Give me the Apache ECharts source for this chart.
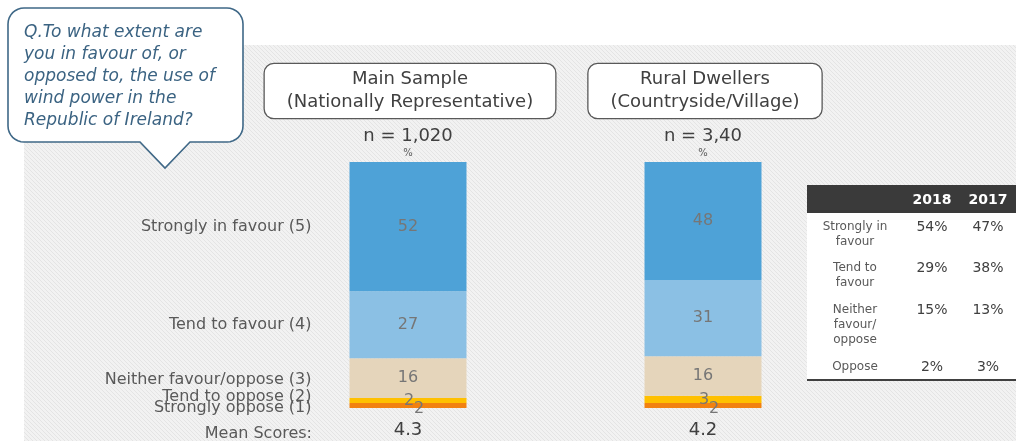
<!DOCTYPE html>
<html>
<head>
<meta charset="utf-8">
<script src="https://cdn.jsdelivr.net/npm/echarts@6/dist/echarts.min.js"></script>
<style>
  html, body { margin: 0; padding: 0; background: #fff; }
  #chart { width: 1016px; height: 441px; }
</style>
</head>
<body>
<div id="chart"></div>
<script>
// groups (x categories)
const groups = ['Main Sample\n(Nationally Representative)', 'Rural Dwellers\n(Countryside/Village)']
const sampleSizes = ['n = 1,020', 'n = 3,40']
const levels = ['Strongly in favour (5)', 'Tend to favour (4)', 'Neither favour/oppose (3)', 'Tend to oppose (2)', 'Strongly oppose (1)']
// % per group
const strongFavour = [52, 48]
const tendFavour = [27, 31]
const neither = [16, 16]
const tendOppose = [2, 3]
const strongOppose = [2, 2]
const meanScores = ['4.3', '4.2']
// comparison table
const tableYears = ['2018', '2017']
const tableRows = ['Strongly in\nfavour', 'Tend to\nfavour', 'Neither\nfavour/\noppose', 'Oppose']
const table2018 = ['54%', '29%', '15%', '2%']
const table2017 = ['47%', '38%', '13%', '3%']
const question = 'Q.To what extent are\nyou in favour of, or\nopposed to, the use of\nwind power in the\nRepublic of Ireland?'

const FONT = 'DejaVu Sans'
const chart = echarts.init(document.getElementById('chart'))

// stacks are drawn to 100%, labels show the raw number
const seriesValues = [strongFavour, tendFavour, neither, tendOppose, strongOppose]
const totals = groups.map((g, i) => seriesValues.reduce((s, arr) => s + arr[i], 0))
const toPct = (arr) => arr.map((v, i) => ({ value: v / totals[i] * 100, raw: v }))

const colors = ['#4ea2d7', '#8bc0e4', '#e5d5bb', '#ffc000', '#f28110']
const innerOffsets = [[0, 0], [0, 0], [0, 0], [1, 0], [11, 3]]
const leftOffsets = [[0, 0], [0, 0], [0, 2], [0, -4], [0, 2]]

// bottom of the stack first
const order = [4, 3, 2, 1, 0]
const series = []
order.forEach(k => {
  series.push({
    name: levels[k],
    type: 'bar',
    stack: 'total',
    barWidth: 117,
    barGap: '-100%',
    data: toPct(seriesValues[k]),
    itemStyle: { color: colors[k] },
    label: {
      show: true,
      position: 'inside',
      offset: innerOffsets[k],
      color: '#767676',
      fontFamily: FONT,
      fontSize: 16,
      formatter: p => p.data.raw
    },
    emphasis: { disabled: true }
  })
})
// invisible copy of the main sample stack, only used for the row labels on the left
order.forEach(k => {
  const d = toPct(seriesValues[k])
  series.push({
    name: levels[k] + ' label',
    type: 'bar',
    stack: 'ghost',
    barWidth: 117,
    barGap: '-100%',
    data: [d[0], '-'],
    itemStyle: { color: 'rgba(0,0,0,0)' },
    label: {
      show: true,
      position: 'left',
      distance: 38,
      offset: leftOffsets[k],
      color: '#595959',
      fontFamily: FONT,
      fontSize: 16,
      formatter: () => levels[k]
    },
    silent: true,
    z: 3
  })
})

// hatched backdrop
const hatch = document.createElement('canvas')
hatch.width = 4
hatch.height = 4
const hctx = hatch.getContext('2d')
hctx.fillStyle = '#f2f2f2'
hctx.fillRect(0, 0, 4, 4)
hctx.strokeStyle = '#e4e4e4'
hctx.lineWidth = 1
hctx.beginPath()
hctx.moveTo(0, 0)
hctx.lineTo(4, 4)
hctx.stroke()

const option = {
  backgroundColor: '#fff',
  animation: false,
  grid: { left: 260.5, right: 165.5, top: 162, bottom: 33 },
  xAxis: [
    {
      type: 'category',
      data: groups,
      axisLine: { show: false },
      axisTick: { show: false },
      axisLabel: {
        margin: 13,
        color: '#404040',
        fontFamily: FONT,
        fontSize: 18,
        formatter: (v, i) => meanScores[i]
      }
    },
    {
      type: 'category',
      position: 'top',
      data: groups,
      axisLine: { show: false },
      axisTick: { show: false },
      axisLabel: {
        margin: 3,
        formatter: (v, i) => `{n|${sampleSizes[i]}}\n{p|%}`,
        rich: {
          n: { color: '#404040', fontFamily: FONT, fontSize: 18, lineHeight: 22 },
          p: { color: '#595959', fontFamily: FONT, fontSize: 10, lineHeight: 12 }
        }
      }
    }
  ],
  yAxis: { type: 'value', min: 0, max: 100, show: false },
  series: series
}
chart.setOption(option)

// speech bubble outline: rounded box with a tail, as polygon points
function bubblePoints(x0, y0, x1, y1, r, tail) {
  const pts = []
  const arc = (cx, cy, a0) => {
    for (let s = 0; s <= 8; s++) {
      const a = (a0 + s * 90 / 8) * Math.PI / 180
      pts.push([cx + r * Math.cos(a), cy + r * Math.sin(a)])
    }
  }
  arc(x0 + r, y0 + r, 180)
  arc(x1 - r, y0 + r, 270)
  arc(x1 - r, y1 - r, 0)
  pts.push([tail[2], y1], [tail[1], tail[3]], [tail[0], y1])
  arc(x0 + r, y1 - r, 90)
  return pts
}

// header boxes, question bubble and the small table
const centres = groups.map((g, i) => chart.convertToPixel({ gridIndex: 0 }, [i, 0])[0])
const graphics = [
  {
    type: 'rect', z: -10, silent: true,
    shape: { x: 24, y: 45, width: 1016 - 24, height: 441 - 45 },
    style: { fill: { image: hatch, repeat: 'repeat' } }
  },
  {
    type: 'polygon', silent: true,
    shape: { points: bubblePoints(8, 8, 243, 142, 16, [140, 165, 190, 168]) },
    style: { fill: '#fff', stroke: '#3f6887', lineWidth: 1.6 }
  },
  {
    type: 'text', silent: true, x: 24, y: 22,
    style: { text: question, fill: '#3b6382', font: `italic 17px "${FONT}"`, lineHeight: 21.8, align: 'left', verticalAlign: 'top' }
  },
  {
    type: 'text', silent: true, x: 312, y: 434,
    style: { text: 'Mean Scores:', fill: '#595959', font: `16px "${FONT}"`, align: 'right', verticalAlign: 'middle' }
  }
]
groups.forEach((g, i) => {
  graphics.push({
    type: 'text', silent: true, x: centres[i] + 2, y: 64,
    style: {
      text: g, fill: '#404040', font: `18px "${FONT}"`, lineHeight: 23,
      align: 'center', verticalAlign: 'top',
      backgroundColor: '#fff', borderColor: '#595959', borderWidth: 1.3, borderRadius: 9,
      padding: [4, 22]
    }
  })
})

const tX = 807, tW = 209, colX = [855, 932, 988]
const rowY = [227, 268, 310, 367]
graphics.push(
  { type: 'rect', silent: true, shape: { x: tX, y: 213, width: tW, height: 167 }, style: { fill: '#fff' } },
  { type: 'rect', silent: true, shape: { x: tX, y: 185, width: tW, height: 28 }, style: { fill: '#3a3a3a' } },
  { type: 'line', silent: true, shape: { x1: tX, y1: 380, x2: tX + tW, y2: 380 }, style: { stroke: '#404040', lineWidth: 2 } }
)
tableYears.forEach((yr, j) => {
  graphics.push({
    type: 'text', silent: true, x: colX[j + 1], y: 200,
    style: { text: yr, fill: '#fff', font: `bold 14px "${FONT}"`, align: 'center', verticalAlign: 'middle' }
  })
})
tableRows.forEach((r, i) => {
  graphics.push(
    {
      type: 'text', silent: true, x: colX[0], y: rowY[i] - 7.5,
      style: { text: r, fill: '#595959', font: `12px "${FONT}"`, lineHeight: 15, align: 'center', verticalAlign: 'top' }
    },
    {
      type: 'text', silent: true, x: colX[1], y: rowY[i],
      style: { text: table2018[i], fill: '#404040', font: `14px "${FONT}"`, align: 'center', verticalAlign: 'middle' }
    },
    {
      type: 'text', silent: true, x: colX[2], y: rowY[i],
      style: { text: table2017[i], fill: '#404040', font: `14px "${FONT}"`, align: 'center', verticalAlign: 'middle' }
    }
  )
})
chart.setOption({ graphic: { elements: graphics } })
</script>
</body>
</html>
